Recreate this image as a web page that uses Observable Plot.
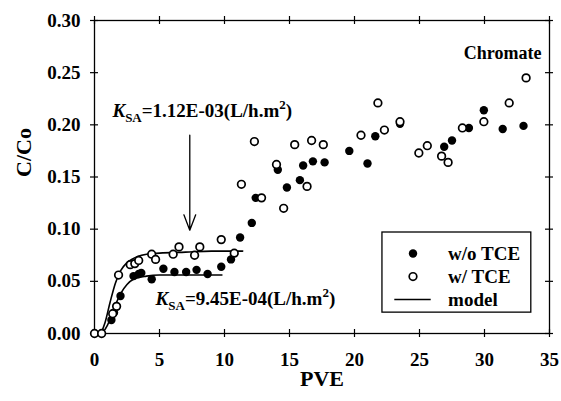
<!DOCTYPE html>
<html>
<head>
<meta charset="utf-8">
<script src="https://cdn.jsdelivr.net/npm/d3@7"></script>
<script src="https://cdn.jsdelivr.net/npm/@observablehq/plot@0.6"></script>
<style>
  html, body { margin: 0; padding: 0; background: #fff; }
  #chart { width: 561px; height: 401px; }
  #chart svg text, #chart svg tspan { font-family: "Liberation Serif", "Times New Roman", serif !important; font-weight: bold; }
</style>
</head>
<body>
<div id="chart"></div>
<script>
// ---- data ----
const filledX = [1.3, 1.5, 2.0, 3.0, 3.4, 3.6, 4.4, 5.3, 6.15, 7.05, 7.85, 8.7, 9.75, 10.5, 11.2, 12.1, 12.4, 14.1, 14.8, 15.8, 16.05, 16.8, 17.7, 19.6, 21.0, 21.6, 23.5, 26.9, 27.5, 28.8, 29.95, 31.4, 33.0];
const filledY = [0.013, 0.020, 0.036, 0.055, 0.057, 0.058, 0.052, 0.062, 0.059, 0.059, 0.061, 0.057, 0.064, 0.071, 0.092, 0.106, 0.130, 0.157, 0.140, 0.147, 0.161, 0.165, 0.164, 0.175, 0.163, 0.189, 0.201, 0.179, 0.185, 0.197, 0.214, 0.196, 0.199];

const openX = [0.0, 0.55, 1.4, 1.7, 1.85, 2.75, 3.1, 3.4, 4.4, 4.7, 6.05, 6.5, 7.7, 8.1, 9.75, 10.75, 11.3, 12.3, 12.85, 14.0, 14.55, 15.4, 16.35, 16.7, 17.6, 20.5, 21.8, 22.3, 23.5, 24.95, 25.6, 26.7, 27.2, 28.3, 29.95, 31.9, 33.2];
const openY = [0.000, 0.000, 0.019, 0.026, 0.056, 0.066, 0.067, 0.070, 0.076, 0.071, 0.076, 0.083, 0.075, 0.083, 0.090, 0.077, 0.143, 0.184, 0.130, 0.162, 0.120, 0.181, 0.141, 0.185, 0.181, 0.190, 0.221, 0.195, 0.203, 0.173, 0.180, 0.170, 0.164, 0.197, 0.203, 0.221, 0.245];

const modelUpperX = [0.5, 0.8, 1.2, 1.6, 2.0, 2.5, 3.0, 4.0, 5.0, 7.0, 9.0, 11.4];
const modelUpperY = [0.000, 0.010, 0.030, 0.048, 0.060, 0.068, 0.072, 0.076, 0.077, 0.078, 0.079, 0.079];
const modelLowerX = [0.6, 1.0, 1.5, 2.0, 2.5, 3.0, 4.0, 5.0, 7.0, 9.8];
const modelLowerY = [0.000, 0.008, 0.024, 0.038, 0.047, 0.052, 0.055, 0.056, 0.056, 0.056];

const xTicks = [0, 5, 10, 15, 20, 25, 30, 35];
const yTicks = [0, 0.05, 0.10, 0.15, 0.20, 0.25, 0.30];

const legendLabels = ["w/o TCE", "w/ TCE", "model"];
const annotUpper = {label: "K|SA|=1.12E-03(L/h.m|2|)", x: 1.38, y: 0.2137};
const annotLower = {label: "K|SA|=9.45E-04(L/h.m|2|)", x: 4.7, y: 0.0335};
const arrowSpec = {x: 7.33, y1: 0.190, y2: 0.099};

// ---- tables ----
const filled = filledX.map((x, i) => ({x, y: filledY[i]}));
const open = openX.map((x, i) => ({x, y: openY[i]}));
const upper = modelUpperX.map((x, i) => ({x, y: modelUpperY[i]}));
const lower = modelLowerX.map((x, i) => ({x, y: modelLowerY[i]}));

const legendBox = [{x1: 22.15, x2: 33.6, y1: 0.020, y2: 0.0968}];
const legendRows = legendLabels.map((t, i) => ({t, y: [0.0767, 0.0546, 0.0326][i]}));

const FONT = "Liberation Serif";

const plot = Plot.plot({
  width: 561,
  height: 401,
  marginLeft: 94,
  marginRight: 12,
  marginTop: 20,
  marginBottom: 68,
  x: {domain: [0, 35]},
  y: {domain: [0, 0.30]},
  style: {fontFamily: FONT, fontWeight: "bold", fontSize: "19px", background: "white", color: "black"},
  marks: [
    Plot.frame({stroke: "black", strokeWidth: 1.3}),
    // crossing ticks on all four sides
    Plot.ruleX(xTicks, {x: d => d, insetTop: 305, dy: 4, stroke: "black", strokeWidth: 1.2}),
    Plot.ruleX(xTicks, {x: d => d, insetBottom: 305, dy: -4, stroke: "black", strokeWidth: 1.2}),
    Plot.ruleY(yTicks, {y: d => d, insetRight: 447, dx: -4, stroke: "black", strokeWidth: 1.2}),
    Plot.ruleY(yTicks, {y: d => d, insetLeft: 447, dx: 4, stroke: "black", strokeWidth: 1.2}),
    Plot.axisX({ticks: xTicks, tickSize: 0, tickPadding: 19, tickFormat: d => String(d), label: null, fontSize: 19, fontFamily: FONT, fontWeight: "bold"}),
    Plot.axisY({ticks: yTicks, tickSize: 0, tickPadding: 14, tickFormat: d => d.toFixed(2), label: null, fontSize: 19, fontFamily: FONT, fontWeight: "bold"}),
    // axis titles
    Plot.text(["C/Co"], {frameAnchor: "left", dx: -71, rotate: -90, fontSize: 22, fontWeight: "bold", fontFamily: FONT}),
    Plot.text(["PVE"], {frameAnchor: "bottom", dy: 52, fontSize: 22, fontWeight: "bold", fontFamily: FONT}),
    Plot.text(["Chromate"], {frameAnchor: "top-right", dx: -8, dy: 26, fontSize: 18, fontWeight: "bold", textAnchor: "end", fontFamily: FONT}),
    // model curves
    Plot.line(upper, {x: "x", y: "y", curve: "monotone-x", stroke: "black", strokeWidth: 1.6}),
    Plot.line(lower, {x: "x", y: "y", curve: "monotone-x", stroke: "black", strokeWidth: 1.6}),
    // data
    Plot.dot(filled, {x: "x", y: "y", r: 4.2, fill: "black", stroke: "none"}),
    Plot.dot(open, {x: "x", y: "y", r: 3.8, fill: "white", stroke: "black", strokeWidth: 1.7}),
    // annotations
    Plot.arrow([arrowSpec], {x: "x", y1: "y1", y2: "y2", headLength: 19, headAngle: 42, stroke: "black", strokeWidth: 1.3}),
    Plot.text([annotUpper], {x: "x", y: "y", text: "label", textAnchor: "start", fontSize: 19, fontFamily: FONT, fontWeight: "bold", className: "annot"}),
    Plot.text([annotLower], {x: "x", y: "y", text: "label", textAnchor: "start", fontSize: 19, fontFamily: FONT, fontWeight: "bold", className: "annot"}),
    // legend
    Plot.rect(legendBox, {x1: "x1", x2: "x2", y1: "y1", y2: "y2", fill: "white", stroke: "black", strokeWidth: 1.3}),
    Plot.dot(legendRows.slice(0, 1), {x: () => 24.5, y: "y", r: 4.2, fill: "black"}),
    Plot.dot(legendRows.slice(1, 2), {x: () => 24.5, y: "y", r: 3.8, fill: "white", stroke: "black", strokeWidth: 1.7}),
    Plot.ruleY(legendRows.slice(2, 3), {y: "y", x1: () => 23.1, x2: () => 25.9, stroke: "black", strokeWidth: 1.6}),
    Plot.text(legendRows, {x: () => 27.2, y: "y", text: "t", textAnchor: "start", fontSize: 19, fontFamily: FONT, fontWeight: "bold"})
  ]
});

document.getElementById("chart").appendChild(plot);

// rich text for the K_SA annotations (italic K, subscript SA, superscript 2)
d3.select(plot).selectAll("g.annot text").each(function() {
  const sel = d3.select(this);
  const parts = sel.text().split("|");
  sel.text(null);
  sel.append("tspan").attr("font-style", "italic").text(parts[0]);
  sel.append("tspan").attr("font-size", "13px").attr("dy", "5").text(parts[1]);
  sel.append("tspan").attr("dy", "-5").text(parts[2]);
  sel.append("tspan").attr("font-size", "13px").attr("dy", "-8").text(parts[3]);
  sel.append("tspan").attr("dy", "8").text(parts[4]);
});
</script>
</body>
</html>
